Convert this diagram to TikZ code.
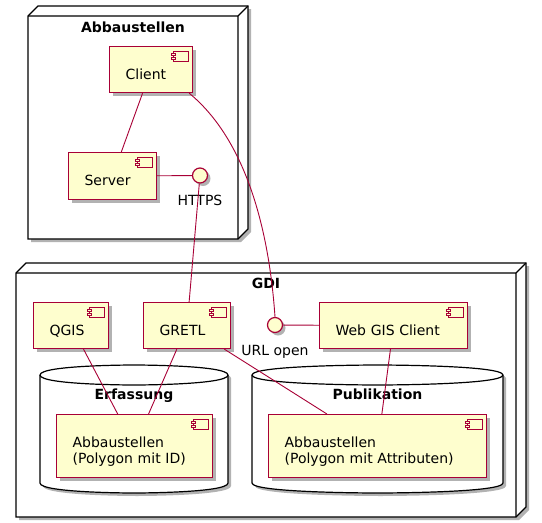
\documentclass[tikz,border=0pt]{standalone}
\usepackage{fontspec}
\setmainfont{DejaVu Sans}
\usetikzlibrary{calc,shadows}
\definecolor{compfill}{HTML}{FEFECE}
\definecolor{compline}{HTML}{A80036}
\tikzset{
  shd/.style={drop shadow={shadow xshift=3pt,shadow yshift=-3pt,opacity=0.3,fill=black}},
  comp/.style={draw=compline, fill=compfill, line width=1.2pt, shd, anchor=north west,
    inner xsep=16pt, inner ysep=0pt, text height=33pt, align=left,
    font=\fontsize{14}{16}\selectfont},
  iconst/.style={draw=compline, fill=compfill, line width=0.9pt},
  iface/.style={circle, draw=compline, fill=compfill, line width=1.2pt,
    minimum size=15pt, inner sep=0pt, shd},
  conn/.style={draw=compline, line width=0.9pt},
  title/.style={font=\bfseries\fontsize{14}{16}\selectfont, anchor=base},
  lbl/.style={font=\fontsize{14}{16}\selectfont, anchor=base},
  frame/.style={draw=black, fill=white, line width=1.2pt},
}
\newcommand\nodebox[4]{%
  \draw[frame,shd] (#1,#2+10) -- (#1+10,#2) -- (#3,#2) -- (#3,#4-10) -- (#3-10,#4) -- (#1,#4) -- cycle;
  \draw[frame,fill=none] (#1,#2+10) -- (#3-10,#2+10) -- (#3,#2) (#3-10,#2+10) -- (#3-10,#4);
}
\newcommand\dbshape[4]{%
  \draw[frame,shd] (#1,#2+10) .. controls (#1,#2) and ({(#1+#3)/2},#2) .. ({(#1+#3)/2},#2)
    .. controls ({(#1+#3)/2},#2) and (#3,#2) .. (#3,#2+10) -- (#3,#4-10)
    .. controls (#3,#4) and ({(#1+#3)/2},#4) .. ({(#1+#3)/2},#4)
    .. controls ({(#1+#3)/2},#4) and (#1,#4) .. (#1,#4-10) -- cycle;
  \draw[frame,fill=none] (#1,#2+10) .. controls (#1,#2+20) and ({(#1+#3)/2},#2+20) .. ({(#1+#3)/2},#2+20)
    .. controls ({(#1+#3)/2},#2+20) and (#3,#2+20) .. (#3,#2+10);
}
\newcommand\cicon[1]{%
  \draw[iconst] ($(#1.north east)+(-20,5)$) rectangle ++(15,10);
  \draw[iconst] ($(#1.north east)+(-22,7)$) rectangle ++(4,2);
  \draw[iconst] ($(#1.north east)+(-22,11)$) rectangle ++(4,2);
}
\begin{document}
\begin{tikzpicture}[x=1pt,y=-1pt]
\useasboundingbox (0,0) rectangle (542,523);
% containers
\nodebox{28}{6}{248}{239}
\node[title] (tAbb) at (133,32) {Abbaustellen};
\nodebox{16}{263}{526}{517}
\node[title] (tGDI) at (266,288) {GDI};
\dbshape{40}{365}{228}{493}
\node[title] (tErf) at (134,399) {Erfassung};
\dbshape{252}{365}{503}{493}
\node[title] (tPub) at (377.5,399) {Publikation};
% components
\node[comp, text width=51pt, text depth=13pt] (client) at (109,46) {Client};
\node[comp, text width=56pt, text depth=14pt] (server) at (68,152) {Server};
\node[comp, text width=43pt, text depth=13pt] (qgis) at (33,302) {QGIS};
\node[comp, text width=55pt, text depth=13pt] (gretl) at (143,302) {GRETL};
\node[comp, text width=116pt, text depth=13pt] (webgis) at (319,302) {Web GIS Client};
\node[comp, text width=124pt, text depth=30pt] (abbE) at (56,414) {Abbaustellen\\(Polygon mit ID)};
\node[comp, text width=186pt, text depth=30pt] (abbP) at (268,414) {Abbaustellen\\(Polygon mit Attributen)};
\cicon{client}\cicon{server}\cicon{qgis}\cicon{gretl}\cicon{webgis}\cicon{abbE}\cicon{abbP}
% interfaces
\node[iface] (https) at (200,175.5) {};
\node[lbl] (lhttps) at (200,205) {HTTPS};
\node[iface] (url) at (275,325) {};
\node[lbl] (lurl) at (275,355) {URL open};
% connectors
\draw[conn] (client) -- (server);
\draw[conn] (server) -- (https);
\draw[conn] (https) -- (gretl);
\draw[conn] ([xshift=-4pt]client.south east) .. controls (240,135) and (268,215) .. (url.north);
\draw[conn] (url) -- (webgis);
\draw[conn] (qgis) -- (abbE);
\draw[conn] (gretl) -- (abbE);
\draw[conn] (gretl) -- (abbP);
\draw[conn] (webgis) -- (abbP);
\end{tikzpicture}
\end{document}
